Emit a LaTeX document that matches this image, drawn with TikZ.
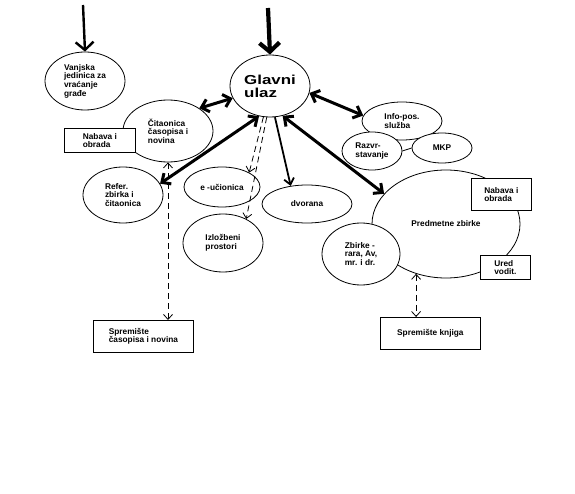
\documentclass[tikz,border=0pt]{standalone}
\usepackage{fontspec}
\setmainfont{Liberation Sans}
\newfontfamily\glfont[FakeStretch=1.3]{Liberation Sans}
\usetikzlibrary{shapes.geometric,arrows.meta}
\begin{document}
\begin{tikzpicture}[x=1pt,y=-1pt,
  txt/.style={font=\fontsize{8.3}{8.6}\selectfont\bfseries},
  ell/.style={draw,ellipse,fill=white,line width=0.8pt,inner sep=0pt,align=left,txt},
  box/.style={draw,rectangle,fill=white,line width=0.8pt,inner sep=0pt,align=left,anchor=north west,txt},
  big/.style={line width=3pt,{Straight Barb[length=7pt,width=13pt]}-{Straight Barb[length=7pt,width=13pt]}},
  dsh/.style={line width=0.8pt,dash pattern=on 6pt off 4pt,-{Straight Barb[length=5pt,width=9pt]}},
  ddsh/.style={line width=0.8pt,dash pattern=on 6pt off 4pt,{Straight Barb[length=5pt,width=9pt]}-{Straight Barb[length=5pt,width=9pt]}}]
\useasboundingbox (0,0) rectangle (575,494);
\fill[white] (0,0) rectangle (575,494);

% ellipses
\node[ell,minimum width=80pt,minimum height=58pt] (vj) at (85,81) {Vanjska\\jedinica za\\vraćanje\\građe};
\node[ell,minimum width=80pt,minimum height=62pt,font=\glfont\fontsize{13}{13}\selectfont\bfseries] (gl) at (270,86) {Glavni\\ulaz};
\node[ell,minimum width=90pt,minimum height=62pt] (cit) at (168,131) {Čitaonica\\časopisa i\\novina};
\node[box,minimum width=71pt,minimum height=24pt] (nab1) at (64,128) {Nabava i\\obrada};
\node[ell,minimum width=80pt,minimum height=56pt] (ref) at (123,195) {Refer.\\zbirka i\\čitaonica};
\node[ell,minimum width=80pt,minimum height=38pt] (info) at (402,121) {Info-pos.\\služba};
\node[ell,minimum width=60pt,minimum height=38pt] (rz) at (372,151) {Razvr-\\stavanje};
\node[ell,minimum width=60pt,minimum height=30pt] (mkp) at (442,148) {MKP};
\draw[line width=0.8pt] (rz.east) -- (mkp.west);
\node[ell,minimum width=148pt,minimum height=108pt] (pz) at (446,224) {Predmetne zbirke};
\node[box,minimum width=60pt,minimum height=32pt] (nab2) at (471,178) {Nabava i\\obrada};
\node[box,minimum width=50pt,minimum height=24pt] (ured) at (480,255) {Ured\\vodit.};
\node[ell,minimum width=78pt,minimum height=62pt] (zb) at (361,254) {Zbirke -\\rara, Av,\\mr. i dr.};
\node[box,minimum width=100pt,minimum height=32pt] (sk) at (380,317) {Spremište knjiga};
\node[ell,minimum width=76pt,minimum height=40pt] (eu) at (222,187) {e -učionica};
\node[ell,minimum width=90pt,minimum height=38pt] (dv) at (307,204) {dvorana};
\node[ell,minimum width=80pt,minimum height=58pt] (iz) at (223,243) {Izložbeni\\prostori};
\node[box,minimum width=100pt,minimum height=32pt] (sc) at (93,320) {Spremište\\časopisa i novina};

% top arrows
\coordinate (t1) at (83,5);
\coordinate (t2) at (268,8);
\draw[line width=2.4pt,-{Straight Barb[length=8pt,width=18pt]}] (t1) -- (vj.north);
\draw[line width=4.2pt,-{Straight Barb[length=9pt,width=20pt]}] (t2) -- (gl.north);

% thick double arrows
\draw[big] (cit.36) -- (gl.198);
\draw[big] (gl.-10) -- (info.172);
\draw[big] (ref.17) -- (gl.-110);
\draw[big] (gl.-67) -- (pz.154);
\draw[line width=1.8pt,-{Straight Barb[length=6pt,width=10pt]}] (gl.-81) -- (dv.132);

% dashed
\draw[dsh] (gl.-102) -- (eu.28);
\draw[dsh] (gl.-96) -- (iz.46);
\draw[ddsh] (cit.south) -- (cit.south |- sc.north);
\draw[ddsh] (pz.-121) -- (pz.-121 |- sk.north);
\end{tikzpicture}
\end{document}
